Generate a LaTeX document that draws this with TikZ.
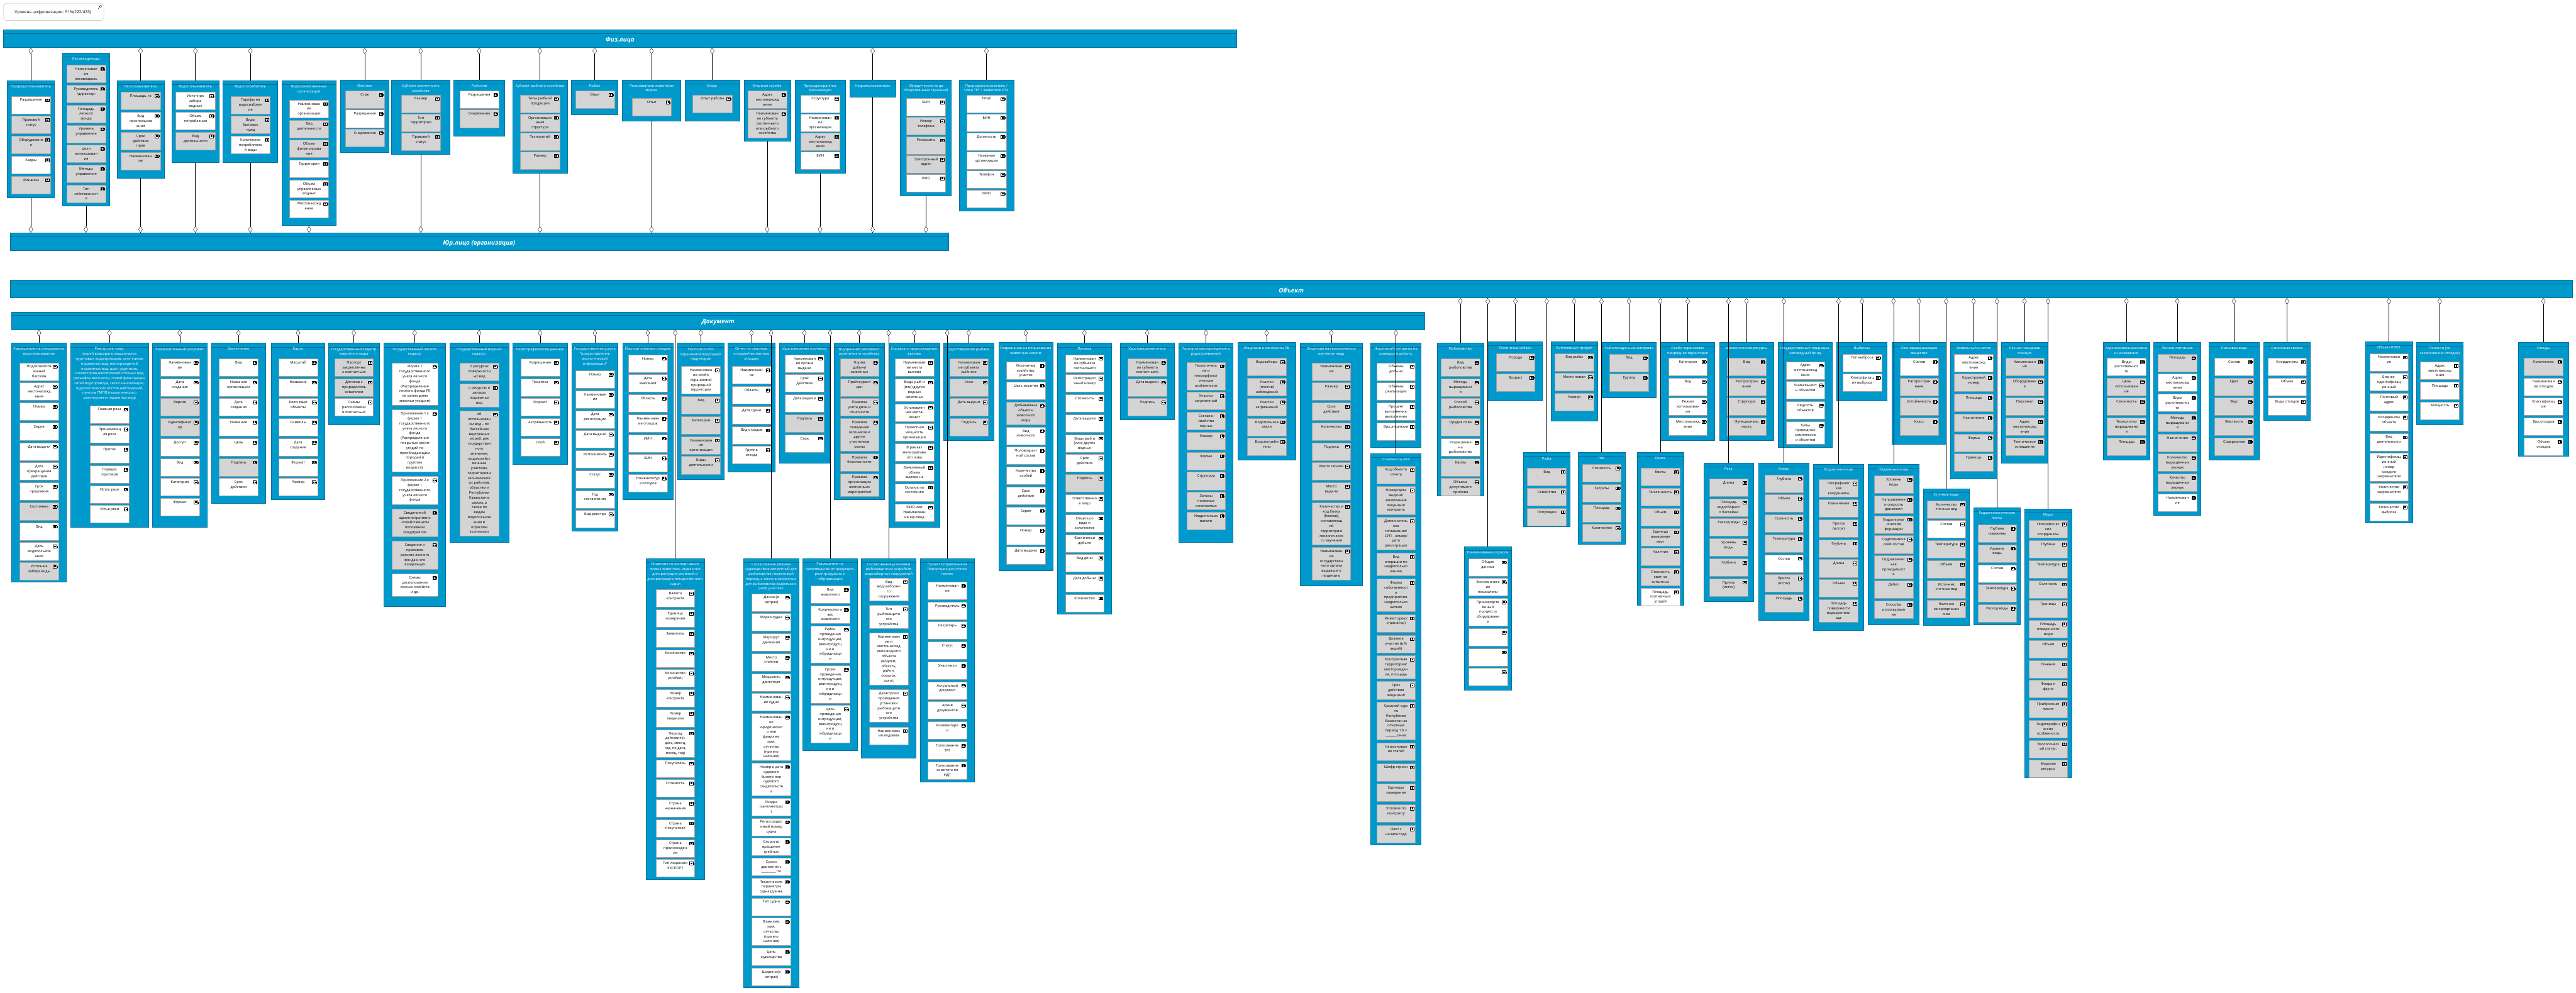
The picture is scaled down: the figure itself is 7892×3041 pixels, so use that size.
\documentclass[tikz,border=0pt]{standalone}
\usepackage{fontspec}
\setmainfont{Open Sans}
\usetikzlibrary{arrows.meta,backgrounds}

\definecolor{cardblue}{RGB}{0,153,204}
\definecolor{cardedge}{RGB}{0,112,156}
\definecolor{rowedge}{RGB}{158,158,158}
\definecolor{W}{RGB}{255,255,255}
\definecolor{G}{RGB}{212,212,212}

\newbox\rowbx
\newlength\rowhgt
\newcommand\rowtxt[2]{%
  \setbox\rowbx=\vbox{\hsize=\dimexpr#1pt-8pt\relax\parindent=0pt\parskip=0pt
    \centering\strut#2\strut\par}%
  \rowhgt=\ht\rowbx \advance\rowhgt by \dp\rowbx
  \ifdim\rowhgt<44pt \rowhgt=44pt\fi
  \vbox to \rowhgt{\unvbox\rowbx\vss}}

\tikzset{
  cardbox/.style={draw=cardedge, fill=cardblue, line width=1pt, inner sep=0pt, anchor=north west},
  cardtitle/.style={text=white, font=\fontsize{11}{15}\selectfont, align=center, inner sep=0pt, anchor=north},
  rowbox/.style={draw=rowedge, line width=1.2pt, inner xsep=0pt, inner ysep=5pt, anchor=north west, font=\fontsize{11}{15}\selectfont},
  bandbox/.style={draw=cardedge, fill=cardblue, line width=1pt, inner sep=0pt, anchor=north west, minimum height=54pt},
  bandtitle/.style={text=white, font=\fontsize{19}{22}\selectfont\bfseries\itshape},
  agg/.style={line width=0.7pt, -{Diamond[length=20pt, width=13pt, fill=white]}},
  attr/.pic={
    \draw[line width=0.6pt, fill=white] (-17,8) rectangle (-6,17);
    \draw[line width=0.6pt] (-6,10.5) rectangle (-4.5,14.5);
    \draw[line width=0.5pt] (-14,10) -- (-14,15) (-11.5,10) -- (-11.5,15) (-9,10) -- (-9,15);
  }
}

% card: name, x, top, width, bottom, title
\newcommand\card[6]{%
  \begin{pgfonlayer}{background}
    \node[cardbox, minimum width=#4pt, minimum height={(#5-#3)*1pt}] (#1) at (#2,#3) {};
    \draw[cardedge, line width=0.8pt] ([yshift=-12pt]#1.north west) -- ([yshift=-12pt]#1.north east);
  \end{pgfonlayer}
  \node[cardtitle] (#1-t) at ([yshift=-14pt]#1.north) {#6};}

% rows: [gap], card, row width, first row offset, list
\newcommand\rows[5][6]{%
  \coordinate (cur) at ([xshift={-#3pt/2}, yshift={-#4pt}]#2.north);
  \foreach \fc/\tx [count=\ri] in {#5}{%
    \node[rowbox, fill=\fc, minimum width=#3pt] (#2-\ri) at (cur) {\rowtxt{#3}{\tx}};
    \pic at (#2-\ri.north east) {attr};
    \coordinate (cur) at ([yshift={-#1pt}]#2-\ri.south west);}}

\begin{document}
\begin{tikzpicture}[x=1pt, y=-1pt]
\useasboundingbox (0,0) rectangle (7892,3041);

\draw[gray!55, line width=0.8pt] (10,18) -- (18,10) -- (310,10) -- (318,18) -- (318,55) -- (310,63) -- (18,63) -- (10,55) -- cycle;
\node[font=\fontsize{12.5}{15}\selectfont] (level) at (162,38) {Уровень цифровизации: 51\%(222/433)};
\draw[line width=0.6pt] (308,19) circle[radius=3.5pt] (305.5,21.5) -- (301,27);

% bands
\node[bandbox, minimum width=3778pt] (fiz) at (10,91) {};
\draw[cardedge, line width=0.8pt] ([yshift=-11pt]fiz.north west) -- ([yshift=-11pt]fiz.north east);
\node[bandtitle] (fiz-t) at ([yshift=-32pt]fiz.north) {Физ.лицо};
\node[bandbox, minimum width=2875pt] (yur) at (30,713) {};
\draw[cardedge, line width=0.8pt] ([yshift=-11pt]yur.north west) -- ([yshift=-11pt]yur.north east);
\node[bandtitle] (yur-t) at ([yshift=-32pt]yur.north) {Юр.лицо (организация)};
\node[bandbox, minimum width=7851pt] (obj) at (30,858) {};
\draw[cardedge, line width=0.8pt] ([yshift=-11pt]obj.north west) -- ([yshift=-11pt]obj.north east);
\node[bandtitle] (obj-t) at ([yshift=-32pt]obj.north) {Объект};
\node[bandbox, minimum width=4331pt] (doc) at (34,955) {};
\draw[cardedge, line width=0.8pt] ([yshift=-11pt]doc.north west) -- ([yshift=-11pt]doc.north east);
\node[bandtitle] (doc-t) at ([yshift=-32pt]doc.north) {Документ};

% Физ.лицо
\card{f1}{22}{246}{144}{605}{Природопользователь}
\rows{f1}{120}{48}{W/{Разрешения}, G/{Правовой\\статус}, G/{Оборудовани\\е}, W/{Кадры}, G/{Финансы}}
\card{f2}{191}{162}{144}{630}{Лесовладельцы}
\rows{f2}{120}{37}{G/{Наименован\\ие\\лесовладель}, G/{Руководитель\\/директор:}, G/{Площадь\\лесного\\фонда}, G/{Уровень\\управления}, G/{Цели\\использован\\ия}, G/{Методы\\управления}, G/{Тип\\собственност\\и}}
\card{f3}{358}{246}{144}{545}{Лесопользователь}
\rows{f3}{120}{36}{G/{Площадь, га}, W/{Вид\\лесопользов\\ания}, G/{Срок\\действия\\прав}, G/{Наименован\\ие}}
\card{f4}{526}{246}{144}{498}{Водопользователь}
\rows{f4}{120}{36}{W/{Источник\\забора\\водных}, W/{Объем\\потребления}, G/{Вид\\деятельности}}
\card{f5}{683}{246}{167}{498}{Водопотребитель}
\rows{f5}{120}{48}{G/{Тарифы на\\водоснабжен\\ие}, G/{Виды\\бытовых\\нужд}, W/{Количество\\потребляемо\\й воды}}
\card{f6}{863}{246}{166}{690}{Водохозяйственные\\организации}
\rows{f6}{120}{60}{W/{Наименован\\ие\\организации}, G/{Вид\\деятельности}, G/{Объем\\финансирова\\ния}, W/{Территория}, W/{Объем\\управляемых\\водных}, W/{Местонахожд\\ение}}
\card{f7}{1043}{244}{148}{466}{Охотник}
\rows[3]{f7}{120}{34}{G/{Стаж}, W/{Разрешения}, G/{Снаряжение}}
\card{f8}{1199}{244}{179}{473}{Субъект охотничьего\\хозяйства}
\rows[3]{f8}{120}{46}{G/{Размер}, G/{Тип\\территории}, G/{Правовой\\статус}}
\card{f9}{1390}{244}{155}{416}{Рыболов}
\rows[3]{f9}{120}{34}{W/{Разрешения}, G/{Снаряжение}}
\card{f10}{1570}{244}{167}{530}{Субъект рыбного хозяйства}
\rows[3]{f10}{120}{46}{G/{Типы рыбной\\продукции}, G/{Организацио\\нная\\структура}, G/{Технологий}, G/{Размер}}
\card{f11}{1750}{244}{143}{351}{Рыбак}
\rows[3]{f11}{120}{34}{G/{Опыт}}
\card{f12}{1906}{244}{179}{370}{Пользователи животным\\миром}
\rows[3]{f12}{120}{57}{G/{Опыт}}
\card{f13}{2098}{244}{167}{370}{Егерь}
\rows[3]{f13}{120}{46}{G/{Опыт работы}}
\card{f14}{2279}{244}{142}{432}{Егерская служба}
\rows[3]{f14}{120}{34}{G/{Адрес\\местонахожд\\ения}, G/{Наименован\\ие субъекта\\охотничьего\\или рыбного\\хозяйства}}
\card{f15}{2435}{244}{154}{530}{Природоохранные\\организации}
\rows[3]{f15}{120}{46}{W/{Структура}, W/{Наименован\\ие\\организации}, G/{Адрес\\местонахожд\\ения}, W/{БИН}}
\card{f16}{2603}{244}{140}{296}{Недропользователь}
\card{f17}{2758}{244}{156}{600}{Юридические лица\\общественных слушаний}
\rows[3]{f17}{120}{57}{W/{БИН}, G/{Номер\\телефона}, G/{Реквизиты}, G/{Электронный\\адрес}, W/{ФИО}}
\card{f18}{2938}{244}{167}{646}{Природопользователь /\\Член ТРГ / Заявители КТА}
\rows[3]{f18}{120}{46}{W/{Email}, W/{БИН}, W/{Должность}, W/{Название\\организации}, W/{Телефон}, W/{ФИО}}

% Документ
\card{d1}{35}{1051}{168}{1782}{Разрешение на специальное\\водопользование}
\rows{d1}{118}{60}{W/{Водохозяйств\\енный\\бассейн}, W/{Адрес\\местонахожд\\ения}, W/{Номер}, W/{Серия}, W/{Дата выдачи}, W/{Дата\\прекращения\\действия}, W/{Срок\\продления}, G/{Состояние}, W/{Вид}, W/{Цель\\водопользов\\ания}, G/{Источник\\забора воды}}
\card{d2}{216}{1051}{238}{1614}{Реестр рек, озер,\\морей,водохранилищ,каналов\\групповых водопроводов, источников\\подземных вод, месторождений\\подземных вод, шахт, рудников,\\коллекторов,накопителей сточных вод,\\рельефов местности, полей фильтрации,\\сетей водопровода, сетей канализации,\\гидрологических постов наблюдений,\\пунктов ГМПВ (геологического\\мониторинга подземных вод)}
\rows{d2}{119}{191}{W/{Главная река}, W/{Принимающ\\ая река}, W/{Приток}, W/{Порядок\\притоков}, W/{Исток реки}, W/{Устье реки}}
\card{d3}{467}{1051}{166}{1614}{Разрешительный документ}
\rows{d3}{119}{47}{W/{Наименован\\ие}, W/{Дата\\создания}, G/{Версия}, G/{Идентификат\\ор}, W/{Доступ}, W/{Вид}, W/{Категория}, W/{Формат}}
\card{d4}{647}{1051}{166}{1541}{Заключение}
\rows{d4}{119}{47}{W/{Вид}, W/{Название\\организации}, W/{Дата\\создания}, W/{Название}, W/{Цель}, G/{Подпись}, W/{Срок\\действия}}
\card{d5}{831}{1051}{163}{1530}{Карта}
\rows{d5}{119}{47}{W/{Масштаб}, W/{Название}, W/{Ключевые\\объекты}, W/{Символы}, W/{Дата\\создания}, W/{Формат}, W/{Размер}}
\card{d6}{1006}{1051}{155}{1301}{Государственный кадастр\\животного мира}
\rows{d6}{118}{47}{G/{Паспорт\\закреплённы\\х охотничьих}, G/{Договор с\\природополь\\зователем}, W/{Схемы\\расположени\\я охотничьих}}
\card{d7}{1175}{1051}{190}{1857}{Государственный лесной\\кадастр}
\rows[13]{d7}{141}{60}{W/{Форма 1\\государственного\\учета лесного\\фонда\\(Распределение\\лесного фонда РК\\по категориям\\земельи угодьям)}, W/{Приложение 1 к\\форме 1\\государственного\\учета лесного\\фонда\\(Распределение\\покрытых лесом\\угодий по\\преобладающим\\породам и\\группам\\возраста);}, W/{Приложение 2 к\\форме 1\\государственного\\учета лесного\\фонда}, G/{Сведения об\\административно\\-хозяйственном\\положении\\предприятия}, G/{Сведения о\\правовом\\режиме лесного\\фонда и его\\владельцах}, W/{Схемы\\расположения\\лесных хозяйств\\и др.}}
\card{d8}{1377}{1051}{181}{1661}{Государственный водный\\кадастр}
\rows[10]{d8}{118}{60}{G/{о ресурсах\\поверхностн\\ых вод}, G/{о ресурсах и\\запасах\\подземных\\вод}, G/{об\\использован\\ии вод – по\\бассейнам\\внутренних\\морей, рек\\государствен\\ного\\значения,\\водохозяйст\\венным\\участкам,\\территориям\\экономическ\\их районов,\\областям и\\Республики\\Казахстан в\\целом, а\\также по\\видам\\водопользов\\ания и\\отраслям\\экономики}}
\card{d9}{1571}{1051}{166}{1421}{Картографические данные}
\rows{d9}{119}{47}{W/{Разрешение}, W/{Тематика}, W/{Формат}, W/{Актуальность}, W/{Слой}}
\card{d10}{1751}{1051}{142}{1626}{Государственная услуга\\"предоставление\\экологической\\информации"}
\rows{d10}{118}{84}{W/{Номер}, W/{Наименован\\ие}, W/{Дата\\регистрации}, W/{Дата выдачи}, W/{Исполнитель}, W/{Статус}, W/{Год\\составления}, W/{Вид реестра}}
\card{d11}{1907}{1051}{154}{1530}{Паспорт опасных отходов}
\rows{d11}{119}{35}{W/{Номер}, W/{Дата\\внесения}, W/{Область}, W/{Наименован\\ие отходов}, W/{ИИН}, W/{БИН}, W/{Номенклатур\\а отходов}}
\card{d12}{2075}{1051}{143}{1468}{Паспорт особо\\охраняемойприродной\\территории}
\rows{d12}{119}{71}{W/{Наименован\\ие особо\\охраняемой\\природной\\территории}, G/{Вид}, G/{Категория}, G/{Наименован\\ие\\организации}, G/{Виды\\деятельности}}
\card{d13}{2230}{1051}{143}{1446}{Отчет по опасным\\отходам/неопасным\\отходам}
\rows{d13}{120}{71}{W/{Наименован\\ие}, W/{Область}, W/{Дата сдачи}, W/{Вид отходов}, W/{Группа\\отхода}}
\card{d14}{2387}{1051}{154}{1418}{Удостоверение охотника}
\rows{d14}{118}{35}{W/{Наименован\\ие органа\\выдачи}, W/{Срок\\действия}, W/{Дата выдачи}, G/{Подпись}, W/{Стаж}}
\card{d15}{2555}{1051}{154}{1530}{Внутренний регламент\\охотничьего хозяйства}
\rows{d15}{118}{47}{G/{Норма\\добычи\\животных}, G/{Прейскурант\\цен}, G/{Правила\\учета дичи и\\отчетности}, G/{Правила\\поведения\\охотников и\\других\\участников\\охоты}, G/{Правила\\безопасности}, G/{Правила\\организации\\охотничьих\\мероприятий}}
\card{d16}{2723}{1051}{155}{1614}{Справка о происхождении\\вылова}
\rows{d16}{119}{47}{W/{Наименован\\ие места\\вылова}, W/{Виды рыб и\\(или) других\\водных\\животных}, W/{Установлен\\ная квота/\\лимит}, W/{Проектная\\мощность\\организации}, W/{В рамках\\мелиоративн\\ого лова}, W/{Заявляемый\\объем\\вылова на}, W/{Остаток по\\состоянию}, W/{ФИО или\\Наименован\\ие юр.лица}}
\card{d17}{2890}{1051}{155}{1348}{Удостоверение рыбака}
\rows{d17}{119}{47}{G/{Наименован\\ие субъекта\\рыбного}, G/{Стаж}, G/{Дата выдачи}, G/{Подпись}}
\card{d18}{3059}{1049}{166}{1747}{Разрешение на пользование\\животным миром}
\rows{d18}{119}{59}{W/{Охотничье\\хозяйство,\\участок}, W/{Цель изъятия}, G/{Добываемые\\объекты\\животного\\мира}, W/{Вид\\животного}, W/{Половозраст\\ной состав}, W/{Количество\\особей}, W/{Срок\\действия}, W/{Серия}, W/{Номер}, W/{Дата выдачи}}
\card{d19}{3239}{1051}{166}{1881}{Путевка}
\rows{d19}{119}{35}{W/{Наименован\\ие субъекта\\охотничьего}, W/{Регистрацио\\нный номер}, W/{Стоимость}, W/{Дата выдачи}, W/{Виды рыб и\\(или) других\\водных}, W/{Срок\\действия}, G/{Подпись}, W/{Ответственно\\е лицо}, W/{Отметка о\\виде и\\количестве}, W/{Фактически\\добыто}, W/{Вид дичи}, W/{Дата добычи}, W/{Количество}}
\card{d20}{3431}{1051}{166}{1286}{Удостоверение егеря}
\rows{d20}{119}{47}{G/{Наименован\\ие субъекта\\охотничьего}, G/{Дата выдачи}, G/{Подпись}}
\card{d21}{3611}{1051}{166}{1661}{Паспорта месторождения и\\рудопроявлений}
\rows{d21}{118}{58}{G/{Геологическ\\ие и\\геоморфолог\\ические\\особенности}, G/{Участки\\загрязнений}, G/{Состав и\\свойства\\горных}, G/{Размер}, G/{Форма}, G/{Структура}, G/{Запасы\\полезных\\ископаемых}, G/{Недропользо\\ватели}}
\card{d22}{3791}{1049}{178}{1408}{Лицензии и контракты ПВ}
\rows{d22}{118}{48}{G/{Водозаборы}, G/{Участки\\(постов)\\наблюдений}, G/{Участки\\загрязнений}, G/{Водопользов\\атели}, G/{Водопотреби\\тели}}
\card{d23}{3983}{1051}{190}{1794}{Лицензия на геологическое\\изучение недр}
\rows{d23}{118}{60}{G/{Наименован\\ие}, G/{Размер}, G/{Срок\\действия}, G/{Количество}, G/{Подпись}, G/{Место печати}, G/{Место\\выдачи}, G/{Количество и\\код блока\\(блоков),\\составляющ\\ий\\территорию\\геологическо\\го изучения}, G/{Наименован\\ие\\государствен\\ного органа\\выдавшего\\лицензию}}
\card{d24}{4199}{1051}{154}{1370}{Лицензии/Контракты на\\разведку и добычу}
\rows{d24}{118}{60}{W/{Объемы\\добычи}, W/{Объемы\\реализации}, W/{Процент\\выполнения,\\выполнение}, W/{Вид лицензии}}
\card{d25}{4199}{1389}{154}{2587}{Отчетность ЛКУ}
\rows[8]{d25}{118}{38}{G/{Код объекта\\отчета}, G/{Номер/дата\\выдачи/\\заключения\\лицензии/\\контракта}, G/{Дополнитель\\ное\\соглашения/\\СРП - номер/\\дата\\регистрации}, G/{Вид\\операции по\\недропользо\\ванию}, G/{Форма\\собственност\\и\\предприятия-\\недропользо\\вателя}, G/{Инвестор(ы)/\\страна(ны)}, G/{Долевое\\участие (в \%\\акций)}, G/{Контрактная\\территория/\\месторожден\\ие, площадь}, G/{Срок\\действия\\лицензии/}, G/{Средний курс\\по\\Республике\\Казахстан за\\отчетный\\период 1 \$ =\\\_\_\_\_\_\_\_тенге}, G/{Наименован\\ие статей}, G/{Шифр строки}, G/{Единицы\\измерения}, G/{Условие по\\контракту}, G/{Факт с\\начала года}}
\card{l1}{1978}{1710}{180}{2694}{Лицензия на экспорт диких\\живых животных, отдельных\\дикорастущих растений и\\дикорастущего лекарственного\\сырья}
\rows{l1}{119}{96}{W/{Валюта\\контракта}, W/{Единица\\измерения}, W/{Заявитель}, W/{Количество}, W/{Количество\\(особей)}, W/{Номер\\контракта}, W/{Номер\\лицензии}, W/{Период\\действия (с\\дата, месяц,\\год, по дата,\\месяц, год)}, W/{Покупатель}, W/{Стоимость}, W/{Страна\\назначения}, W/{Страна\\покупателя}, W/{Страна\\происхожден\\ия}, W/{Тип лицензии\\ЭКСПОРТ}}
\card{l2}{2278}{1710}{168}{3025}{Согласование режима\\судоходства в запретный для\\рыболовства нерестовый\\период, а также в запретных\\для рыболовства водоемах и\\(или) участках}
\rows{l2}{119}{108}{W/{Длина (в\\метрах)}, W/{Марка судна}, W/{Маршрут\\движения}, W/{Место\\стоянки}, W/{Мощность\\двигателя}, W/{Наименован\\ие судна}, W/{Наименован\\ие\\юридическог\\о или\\фамилия,\\имя,\\отчество\\(при его\\наличии)}, W/{Номер и дата\\судового\\билета или\\судового\\свидетельств\\а}, W/{Осадка\\(сантиметрах\\)}, W/{Регистрацио\\нный номер\\судна}, W/{Скорость\\вращения\\гребных}, W/{Сроки\\движения с\\\_\_\_\_\_\_\_\_\_ по}, W/{Технические\\параметры\\судна (длина,}, W/{Тип судна}, W/{Фамилия,\\имя,\\отчество\\(при его\\наличии)}, W/{Цель\\судоходства}, W/{Ширина (в\\метрах)}}
\card{l3}{2458}{1710}{169}{2298}{Разрешение на\\производства интродукции,\\реинтродукции и\\гибридизации}
\rows{l3}{119}{84}{W/{Вид\\животного}, W/{Количество и\\вес\\животного}, W/{Район\\проведения\\интродукции,\\реинтродукц\\ии и\\гибридизаци\\и}, W/{Сроки\\проведения\\интродукции,\\реинтродукц\\ии и\\гибридизаци\\и}, W/{Цель\\проведения\\интродукции,\\реинтродукц\\ии и\\гибридизаци\\и}}
\card{l4}{2638}{1710}{168}{2322}{Согласование установки\\рыбозащитных устройств\\водозаборных сооружений}
\rows[13]{l4}{120}{60}{W/{Вид\\водозаборно\\го\\сооружения}, W/{Тип\\рыбозащитн\\ого\\устройства}, W/{Наименован\\ие и\\местонахожд\\ение водного\\объекта\\(водоем,\\область,\\район,\\поселок,\\село):}, W/{Дата/сроки\\проведения\\установки\\рыбозащитн\\ого\\устройства}, W/{Наименован\\ие водоема}}
\card{l5}{2818}{1710}{167}{2394}{Проект Справочников\\Наилучших доступных\\техник}
\rows{l5}{119}{72}{W/{Наименован\\ие}, W/{Руководитель}, W/{Секретарь}, W/{Статус}, W/{Участники}, W/{Актуальный\\документ}, W/{Архив\\документов}, W/{Комментари\\и}, W/{Голосование\\ТРГ}, W/{Голосование\\комитета по\\НДТ}}

% Объект
\card{o1}{4402}{1050}{143}{1518}{Рыболовство}
\rows{o1}{119}{48}{G/{Вид\\рыболовства}, G/{Методы\\выращивани\\я}, G/{Способ\\рыболовства}, G/{Орудия лова}, W/{Разрешение\\на\\рыболовство}, G/{Квоты}, G/{Объема\\допустимого\\прилова}}
\card{o2}{4559}{1047}{166}{1227}{Охотничьи собаки}
\rows{o2}{119}{36}{G/{Порода}, G/{Возраст}}
\card{o3}{4486}{1675}{143}{2113}{Наименование отрасли}
\rows{o3}{119}{35}{W/{Общие\\данные}, W/{Экономическ\\ие\\показатели}, W/{Производств\\енный\\процесс и\\оборудовани\\е}, W/{}, W/{}, W/{}}
\card{o4}{4751}{1047}{142}{1289}{Рыболовный трофей}
\rows{o4}{119}{35}{G/{Вид рыбы}, G/{Место ловли}, G/{Размер}}
\card{o5}{4907}{1048}{166}{1218}{Рыбопосадочный материал}
\rows{o5}{119}{36}{G/{Вид}, G/{Группа}}
\card{o6}{5087}{1048}{166}{1348}{Особо охраняемая\\природная территория}
\rows{o6}{119}{48}{W/{Категория}, W/{Вид}, W/{Режим\\использован\\ия}, W/{Местонахожд\\ение}}
\card{o7}{5267}{1048}{166}{1348}{Биологические ресурсы}
\rows{o7}{119}{48}{G/{Вид}, G/{Распростран\\ение}, G/{Структура}, G/{Функциональ\\ность}}
\card{o8}{5447}{1048}{166}{1370}{Государственный природно-\\заповедный фонд}
\rows{o8}{118}{59}{W/{Адрес\\местонахожд\\ения}, W/{Уникальност\\ь объектов}, W/{Редкость\\объектов}, W/{Типы\\природных\\комплексов\\и объектов}}
\card{o9}{5627}{1048}{154}{1227}{Выбросы}
\rows{o9}{119}{36}{W/{Тип выброса}, W/{Классификац\\ия выброса}}
\card{o10}{5795}{1048}{167}{1360}{Озоноразрушающее\\вещество}
\rows{o10}{118}{48}{W/{Состав}, G/{Распростран\\ение}, G/{Устойчивость}, G/{Класс}}
\card{o11}{5975}{1048}{142}{1467}{Земельный участок}
\rows{o11}{119}{36}{W/{Адрес\\местонахожд\\ения}, G/{Кадастровый\\номер}, G/{Площадь}, G/{Назначение}, G/{Форма}, G/{Границы}}
\card{o12}{6131}{1048}{142}{1418}{Лесная пожарная\\станция}
\rows{o12}{118}{48}{G/{Наименован\\ие}, G/{Оборудовани\\е}, G/{Персонал}, G/{Адрес\\местонахожд\\ения}, G/{Техническое\\оснащение}}
\card{o13}{6443}{1048}{142}{1408}{Агролесомелиоративно\\е насаждение}
\rows{o13}{118}{48}{W/{Виды\\растительнос\\ти}, G/{Цель\\использован\\ия}, G/{Сезонность}, G/{Технологии\\выращивани\\я}, G/{Площадь}}
\card{o14}{6598}{1048}{144}{1578}{Лесной питомник}
\rows{o14}{119}{36}{G/{Площадь}, W/{Адрес\\местонахожд\\ения}, W/{Виды\\растительнос\\ти}, G/{Методы\\выращивани\\я}, G/{Назначение}, G/{Количество\\выращенных\\лесных}, G/{Качество\\выращенных\\лесных}, W/{Наименован\\ие}}
\card{o15}{4667}{1386}{142}{1613}{Рыба}
\rows{o15}{119}{48}{G/{Вид}, G/{Семейство}, G/{Популяция}}
\card{o16}{4834}{1386}{144}{1666}{Лес}
\rows{o16}{119}{36}{G/{Стоимость}, G/{Затраты}, G/{Площадь}, G/{Количество}}
\card{o17}{5015}{1386}{142}{1853}{Охота}
\rows{o17}{118}{48}{G/{Квоты}, G/{Численность}, G/{Объем}, G/{Единица\\измерения\\квот}, G/{Наличие}, G/{Стоимость\\квот на\\копытных}, W/{Площадь\\охотничьих\\угодий}}
\card{o18}{5219}{1418}{152}{1841}{Река}
\rows{o18}{119}{48}{G/{Длина}, G/{Площадь\\водосборног\\о бассейна}, G/{Расход воды}, G/{Уровень\\воды}, G/{Глубина}, G/{Приток\\(исток)}}
\card{o19}{5387}{1418}{155}{1900}{Озеро}
\rows{o19}{118}{36}{G/{Глубина}, G/{Объем}, G/{Соленость}, G/{Температура}, W/{Состав}, G/{Приток\\(исток)}, G/{Площадь}}
\card{o20}{5555}{1421}{154}{1930}{Водохранилище}
\rows{o20}{119}{48}{G/{Географичес\\кие\\координаты}, G/{Назначение}, G/{Приток\\(исток)}, G/{Глубина}, G/{Длина}, G/{Объем}, G/{Площадь\\поверхности\\водохранили\\ща}}
\card{o21}{5723}{1421}{155}{1913}{Подземные воды}
\rows{o21}{119}{36}{G/{Уровень\\воды}, G/{Направление\\и скорость\\движения}, G/{Гидрогеолог\\ические\\формации}, G/{Гидрохимиче\\ский состав}, G/{Гидравличес\\кая\\проводимост\\ь}, G/{Дебит}, G/{Способы\\использован\\ия}}
\card{o22}{5891}{1497}{142}{1915}{Сточные воды}
\rows{o22}{118}{36}{G/{Количество\\сточных вод}, W/{Состав}, G/{Температура}, G/{Объем}, G/{Источник\\сточных вод}, G/{Наличие\\микроорганиз\\мов}}
\card{o23}{6046}{1554}{143}{1913}{Гидрогеологические\\посты}
\rows{o23}{118}{53}{G/{Глубина\\скважины}, G/{Уровень\\воды}, W/{Состав}, G/{Температура}, G/{Расход воды}}
\card{o24}{6202}{1558}{144}{2382}{Море}
\rows{o24}{118}{36}{G/{Географичес\\кие\\координаты}, G/{Глубина}, G/{Температура}, G/{Соленость}, G/{Границы}, G/{Площадь\\поверхности\\моря}, G/{Объем}, G/{Течения}, G/{Флора и\\фауна}, G/{Прибрежная\\линия}, G/{Гидрографич\\еские\\особенности}, G/{Экологическ\\ий статус:}, G/{Морские\\ресурсы}}
\card{o25}{6766}{1048}{155}{1408}{Питьевая вода}
\rows{o25}{119}{48}{W/{Состав}, G/{Цвет}, G/{Вкус}, G/{Жесткость}, G/{Содержание}}
\card{o26}{6935}{1048}{142}{1287}{Стихийная свалка}
\rows{o26}{119}{48}{W/{Координаты}, W/{Объем}, W/{Виды отходов}}
\card{o27}{7246}{1046}{144}{1602}{Объект РВПЗ}
\rows{o27}{119}{36}{W/{Наименован\\ие}, W/{Бизнес-\\идентификац\\ионный}, W/{Почтовый\\адрес}, W/{Координаты\\объекта}, W/{Вид\\деятельности}, W/{Идентификац\\ионный\\номер\\каждого\\загрязнителя}, W/{Количество\\загрязнителя}, W/{Количество\\выброса}}
\card{o28}{7403}{1048}{142}{1301}{Полигон (по\\захоронению отходов)}
\rows{o28}{119}{60}{W/{Адрес\\местонахожд\\ения}, W/{Площадь}, W/{Мощность}}
\card{o29}{7714}{1048}{155}{1396}{Отходы}
\rows{o29}{119}{48}{G/{Количество}, W/{Наименован\\ие отходов}, W/{Классификац\\ия}, W/{Вид отходов}, W/{Объем\\отходов}}

% connectors
\foreach \nd in {f1,f3,f4,f5,f7,f8,f9,f10,f11,f12,f13,f16,f18}
  \draw[agg] (\nd.north) -- (\nd.north |- fiz.south);
\foreach \nd in {f1,f2,f3,f4,f5,f6,f8,f10,f12,f14,f15,f16,f17}
  \draw[agg] (\nd.south) -- (\nd.south |- yur.north);
\foreach \nd in {d1,d2,d3,d4,d5,d6,d7,d8,d9,d10,d11,d12,d13,d14,d15,d16,d17,d18,d19,d20,d21,d22,d23,d25,l1,l2,l3,l4,l5}
  \draw[agg] (\nd.north) -- (\nd.north |- doc.south);
\foreach \nd in {o1,o2,o3,o4,o5,o6,o7,o9,o10,o11,o12,o13,o14,o15,o16,o17,o18,o19,o20,o21,o22,o23,o24,o25,o26,o27,o28,o29}
  \draw[agg] (\nd.north) -- (\nd.north |- obj.south);
\end{tikzpicture}
\end{document}
